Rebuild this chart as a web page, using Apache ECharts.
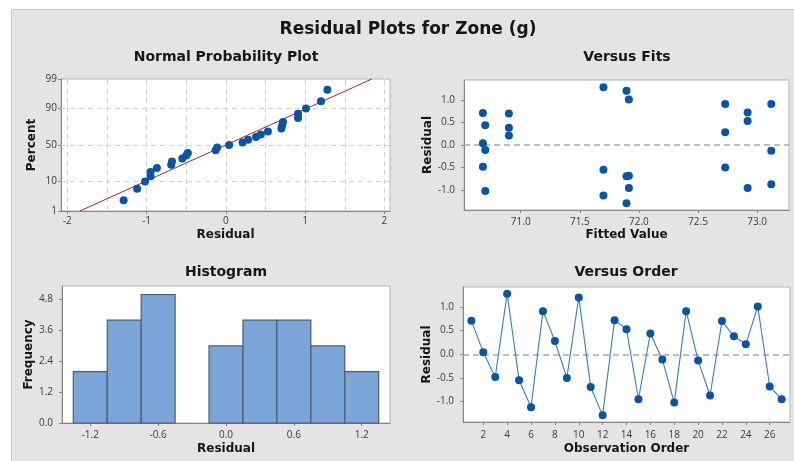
<!DOCTYPE html>
<html>
<head>
<meta charset="utf-8">
<script src="https://cdn.jsdelivr.net/npm/echarts@6/dist/echarts.min.js"></script>
<style>
  html, body { margin: 0; padding: 0; background: #ffffff; }
  #chart { width: 794px; height: 461px; }
</style>
</head>
<body>
<div id="chart"></div>
<script>
// Residuals, listed in observation order
const residuals = [0.71, 0.04, -0.48, 1.28, -0.55, -1.12, 0.91, 0.28, -0.50, 1.20,
                   -0.69, -1.29, 0.72, 0.53, -0.95, 0.44, -0.11, -1.02, 0.91, -0.13,
                   -0.87, 0.70, 0.38, 0.21, 1.01, -0.68, -0.95];
// Fitted value of each observation (same order)
const fittedValues = [70.68, 70.68, 70.68, 71.70, 71.70, 71.70, 72.73, 72.73, 72.73, 71.895,
                      71.895, 71.895, 72.92, 72.92, 72.92, 70.70, 70.70, 70.70, 73.12, 73.12,
                      73.12, 70.90, 70.90, 70.90, 71.915, 71.915, 71.915];
// Histogram of residuals
const histBinCenters = [-1.2, -0.9, -0.6, -0.3, 0.0, 0.3, 0.6, 0.9, 1.2];
const histCounts = [2, 4, 5, 0, 3, 4, 4, 3, 2];

// Tick labels
const percentTicks = [1, 10, 50, 90, 99];
const probXTicks = [-2, -1, 0, 1, 2];
const probXGrid = [-2, -1.5, -1, -0.5, 0, 0.5, 1, 1.5, 2];
const probYGrid = [10, 50, 90];
const fitsTicks = [71.0, 71.5, 72.0, 72.5, 73.0];
const residTicks = [-1.0, -0.5, 0.0, 0.5, 1.0];
const histXTicks = [-1.2, -0.6, 0.0, 0.6, 1.2];
const freqTicks = [0.0, 1.2, 2.4, 3.6, 4.8];
const orderTicks = [2, 4, 6, 8, 10, 12, 14, 16, 18, 20, 22, 24, 26];

// Inverse standard normal CDF (Acklam's rational approximation)
function probit(p) {
  const a = [-3.969683028665376e+01, 2.209460984245205e+02, -2.759285104469687e+02,
             1.383577518672690e+02, -3.066479806614716e+01, 2.506628277459239e+00];
  const b = [-5.447609879822406e+01, 1.615858368580409e+02, -1.556989798598866e+02,
             6.680131188771972e+01, -1.328068155288572e+01];
  const c = [-7.784894002430293e-03, -3.223964580411365e-01, -2.400758277161838e+00,
             -2.549732539343734e+00, 4.374664141464968e+00, 2.938163982698783e+00];
  const d = [7.784695709041462e-03, 3.224671290700398e-01, 2.445134137142996e+00,
             3.754408661907416e+00];
  const pl = 0.02425, ph = 1 - pl;
  let q, r;
  if (p < pl) {
    q = Math.sqrt(-2 * Math.log(p));
    return (((((c[0]*q+c[1])*q+c[2])*q+c[3])*q+c[4])*q+c[5]) / ((((d[0]*q+d[1])*q+d[2])*q+d[3])*q+1);
  }
  if (p <= ph) {
    q = p - 0.5; r = q * q;
    return (((((a[0]*r+a[1])*r+a[2])*r+a[3])*r+a[4])*r+a[5])*q / (((((b[0]*r+b[1])*r+b[2])*r+b[3])*r+b[4])*r+1);
  }
  q = Math.sqrt(-2 * Math.log(1 - p));
  return -(((((c[0]*q+c[1])*q+c[2])*q+c[3])*q+c[4])*q+c[5]) / ((((d[0]*q+d[1])*q+d[2])*q+d[3])*q+1);
}

// Normal probability plot: sorted residuals against normal scores (median ranks)
const n = residuals.length;
const sorted = residuals.slice().sort((x, y) => x - y);
const probPoints = sorted.map((v, i) => [v, probit((i + 1 - 0.3) / (n + 0.4))]);
const mean = residuals.reduce((s, v) => s + v, 0) / n;
const sd = Math.sqrt(residuals.reduce((s, v) => s + (v - mean) * (v - mean), 0) / (n - 1));
const zLo = probit(percentTicks[0] / 100);
const zHi = probit(percentTicks[percentTicks.length - 1] / 100);
const zTicks = percentTicks.map(p => probit(p / 100));
const fitLine = [[mean + sd * zLo, zLo], [mean + sd * zHi, zHi]];

const fitsPoints = residuals.map((r, i) => [fittedValues[i], r]);
const orderPoints = residuals.map((r, i) => [i + 1, r]);
const histData = histBinCenters.map((c, i) => [c, histCounts[i]]);
const binWidth = histBinCenters[1] - histBinCenters[0];

const TITLE_FONT = '"DejaVu Sans", sans-serif';
const TICK_FONT = '"Open Sans", "Noto Sans", sans-serif';
const DOT = '#0a54a4';
const AXIS_COL = '#858585';

function axisBase(extra) {
  return Object.assign({
    type: 'value',
    axisLine: { show: true, onZero: false, lineStyle: { color: AXIS_COL, width: 1 } },
    axisTick: { show: true, length: 3, lineStyle: { color: AXIS_COL } },
    splitLine: { show: false },
    nameLocation: 'middle',
    nameTextStyle: { fontFamily: TITLE_FONT, fontWeight: 'bold', fontSize: 12, color: '#161616' },
    axisLabel: { fontFamily: TICK_FONT, fontSize: 10, color: '#3a3a3a' }
  }, extra);
}

function ticks(values, fmt, margin) {
  return {
    axisLabel: { customValues: values, formatter: fmt, fontFamily: TICK_FONT, fontSize: 10, color: '#3a3a3a', margin: margin },
    axisTick: { show: true, customValues: values, length: 3, lineStyle: { color: AXIS_COL } }
  };
}

const oneDec = v => v.toFixed(1);
const zeroLine = {
  silent: true, symbol: 'none', label: { show: false }, z: 1,
  lineStyle: { color: '#a9a9a9', type: [6, 4], width: 1.5 },
  data: [{ yAxis: 0 }]
};
const dotStyle = { color: DOT, opacity: 1 };

const chart = echarts.init(document.getElementById('chart'), null, { renderer: 'canvas' });

const titleStyle = { fontFamily: TITLE_FONT, fontWeight: 'bold', fontSize: 14, color: '#161616' };

chart.setOption({
  backgroundColor: '#ffffff',
  animation: false,
  graphic: [{
    type: 'rect', z: -10, silent: true,
    shape: { x: 11.5, y: 9.5, width: 800, height: 470 },
    style: { fill: '#e4e4e4', stroke: '#c6c6c6', lineWidth: 1 }
  }],
  title: [
    { text: 'Residual Plots for Zone (g)', left: 408, top: 21, textAlign: 'center', padding: 0,
      textStyle: { fontFamily: TITLE_FONT, fontWeight: 'bold', fontSize: 17, color: '#161616' } },
    { text: 'Normal Probability Plot', left: 226, top: 50, textAlign: 'center', padding: 0, textStyle: titleStyle },
    { text: 'Versus Fits', left: 627, top: 50, textAlign: 'center', padding: 0, textStyle: titleStyle },
    { text: 'Histogram', left: 226, top: 265, textAlign: 'center', padding: 0, textStyle: titleStyle },
    { text: 'Versus Order', left: 626, top: 265, textAlign: 'center', padding: 0, textStyle: titleStyle }
  ],
  grid: [
    { left: 61, top: 79, width: 329, height: 132, show: true, backgroundColor: '#ffffff', borderColor: '#b4b4b4', borderWidth: 1 },
    { left: 464, top: 80, width: 325, height: 130, show: true, backgroundColor: '#ffffff', borderColor: '#b4b4b4', borderWidth: 1 },
    { left: 62, top: 286, width: 328, height: 137, show: true, backgroundColor: '#ffffff', borderColor: '#b4b4b4', borderWidth: 1 },
    { left: 463, top: 287, width: 327, height: 135, show: true, backgroundColor: '#ffffff', borderColor: '#b4b4b4', borderWidth: 1 }
  ],
  xAxis: [
    axisBase(Object.assign({ gridIndex: 0, min: -2.08, max: 2.07, name: 'Residual', nameGap: 18 },
      ticks(probXTicks, v => String(v), 5))),
    axisBase(Object.assign({ gridIndex: 1, min: 70.52, max: 73.27, name: 'Fitted Value', nameGap: 19 },
      ticks(fitsTicks, oneDec, 7))),
    axisBase(Object.assign({ gridIndex: 2, min: -1.45, max: 1.45, name: 'Residual', nameGap: 20 },
      ticks(histXTicks, oneDec, 7))),
    axisBase(Object.assign({ gridIndex: 3, min: 0.3, max: 27.7, name: 'Observation Order', nameGap: 21 },
      ticks(orderTicks, v => String(v), 8)))
  ],
  yAxis: [
    axisBase(Object.assign({ gridIndex: 0, min: zLo, max: zHi, name: 'Percent', nameGap: 23 },
      ticks(zTicks, v => {
        const i = zTicks.findIndex(z => Math.abs(z - v) < 1e-9);
        return i >= 0 ? String(percentTicks[i]) : '';
      }, 4))),
    axisBase(Object.assign({ gridIndex: 1, min: -1.44, max: 1.44, name: 'Residual', nameGap: 29 },
      ticks(residTicks, oneDec, 9))),
    axisBase(Object.assign({ gridIndex: 2, min: 0, max: 5.33, name: 'Frequency', nameGap: 26 },
      ticks(freqTicks, oneDec, 9))),
    axisBase(Object.assign({ gridIndex: 3, min: -1.43, max: 1.42, name: 'Residual', nameGap: 29 },
      ticks(residTicks, oneDec, 9)))
  ],
  series: [
    // Reference grid of the probability plot
    {
      type: 'line', xAxisIndex: 0, yAxisIndex: 0, data: [], silent: true, z: 1,
      markLine: {
        silent: true, symbol: 'none', label: { show: false }, z: 1,
        lineStyle: { color: '#d2d2d2', type: [5, 4], width: 1 },
        data: probXGrid.map(x => ({ xAxis: x })).concat(probYGrid.map(p => ({ yAxis: probit(p / 100) })))
      }
    },
    // Fitted normal line
    {
      type: 'line', xAxisIndex: 0, yAxisIndex: 0, data: fitLine, symbol: 'none', silent: true,
      lineStyle: { color: '#a8262c', width: 1 }, z: 3
    },
    {
      type: 'scatter', xAxisIndex: 0, yAxisIndex: 0, data: probPoints,
      symbol: 'circle', symbolSize: 8, itemStyle: dotStyle, z: 6
    },
    // Residuals versus fitted values
    {
      type: 'scatter', xAxisIndex: 1, yAxisIndex: 1, data: fitsPoints,
      symbol: 'circle', symbolSize: 8, itemStyle: dotStyle, markLine: zeroLine, z: 6
    },
    // Histogram of residuals
    {
      type: 'custom', xAxisIndex: 2, yAxisIndex: 2, data: histData,
      renderItem: function (params, api) {
        const c = api.value(0), h = api.value(1);
        if (!h) return null;
        const p0 = api.coord([c - binWidth / 2, h]);
        const p1 = api.coord([c + binWidth / 2, 0]);
        return {
          type: 'rect',
          shape: { x: p0[0], y: p0[1], width: p1[0] - p0[0], height: p1[1] - p0[1] },
          style: { fill: '#7ba4d8', stroke: '#4f5b6b', lineWidth: 1.2 }
        };
      }
    },
    // Residuals versus observation order
    {
      type: 'line', xAxisIndex: 3, yAxisIndex: 3, data: orderPoints,
      symbol: 'circle', symbolSize: 8, showSymbol: true,
      lineStyle: { color: '#3a78c8', width: 1.1 },
      itemStyle: dotStyle,
      markLine: zeroLine, z: 6
    }
  ]
});
</script>
</body>
</html>
